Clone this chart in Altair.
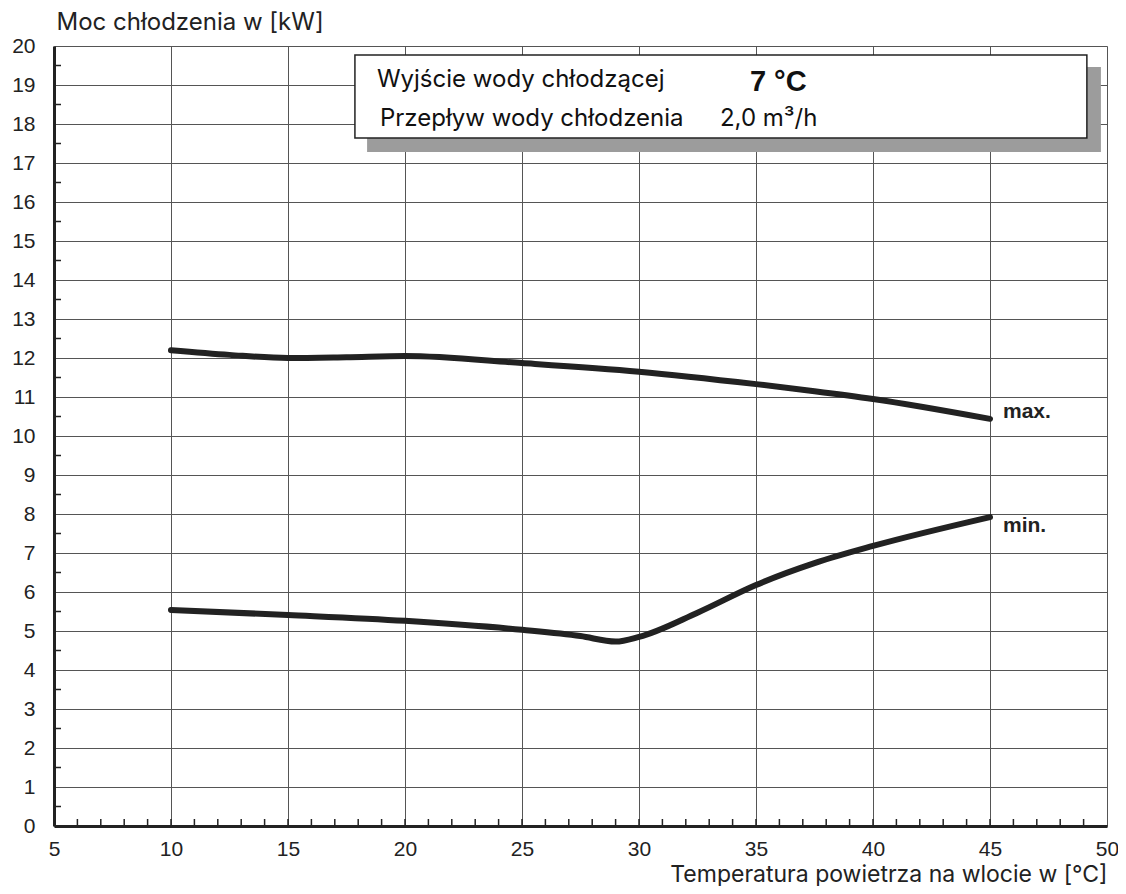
import altair as alt
import pandas as pd

# --- data ---
temp_max = [10, 12.5, 15, 17.5, 20, 25, 30, 35, 37.5, 40, 45]
cap_max = [12.2, 12.08, 12.0, 12.02, 12.05, 11.87, 11.65, 11.33, 11.15, 10.95, 10.44]
temp_min = [10, 15, 20, 25, 27.5, 29, 30, 32.5, 35, 37.5, 40, 45]
cap_min = [5.54, 5.41, 5.26, 5.03, 4.87, 4.73, 4.85, 5.47, 6.18, 6.74, 7.18, 7.92]

x_ticks = [5, 10, 15, 20, 25, 30, 35, 40, 45, 50]
y_ticks = list(range(0, 21))
x_minor = [v for v in range(6, 50)]
y_minor = [v + 0.5 for v in range(0, 20)]

series_labels = ["max.", "min."]

box_lines = ["Wyjście wody chłodzącej", "Przepływ wody chłodzenia"]
box_values = ["7 °C", "2,0 m³/h"]

W, H = 1053, 780

df_line = pd.DataFrame(
    [{"t": t, "p": p, "s": "max"} for t, p in zip(temp_max, cap_max)]
    + [{"t": t, "p": p, "s": "min"} for t, p in zip(temp_min, cap_min)]
)

xs = alt.Scale(domain=[5, 50], nice=False, zero=False)
ys = alt.Scale(domain=[0, 20], nice=False)

base_font = "Liberation Sans"
text_font = "Inter"

x_axis = alt.Axis(
    values=x_ticks, grid=True, gridColor="#555", gridWidth=1,
    ticks=False, domainColor="#222", domainWidth=3,
    labelFont=base_font, labelFontSize=21, labelPadding=12, labelFlush=False,
    labelOverlap=False, labelColor="#222",
    title="Temperatura powietrza na wlocie w [°C]", titleFont=text_font,
    titleFontSize=23, titleFontWeight="normal", titleColor="#222",
    titleAlign="right", titleAnchor="end", titleX=W, titleY=55,
    titleBaseline="alphabetic")
y_axis = alt.Axis(
    values=y_ticks, grid=True, gridColor="#555", gridWidth=1,
    ticks=False, domainColor="#222", domainWidth=3,
    labelFont=base_font, labelFontSize=21, labelPadding=19, labelColor="#222",
    labelOverlap=False,
    title="Moc chłodzenia w [kW]", titleFont=text_font, titleFontSize=24,
    titleFontWeight="normal", titleColor="#222", titleAngle=0,
    titleAlign="left", titleBaseline="alphabetic", titleX=2, titleY=-17)


def X(field):
    return alt.X(field, scale=xs, axis=x_axis)


def Y(field):
    return alt.Y(field, scale=ys, axis=y_axis)


xminor = alt.Chart(pd.DataFrame({"t": x_minor})).mark_rule(color="#222", strokeWidth=1.5).encode(
    x=X("t:Q"), y=alt.value(H), y2=alt.value(H - 7))
yminor = alt.Chart(pd.DataFrame({"p": y_minor})).mark_rule(color="#222", strokeWidth=1.5).encode(
    y=Y("p:Q"), x=alt.value(0), x2=alt.value(7))

lines = alt.Chart(df_line).mark_line(
    color="#222", strokeWidth=6, interpolate="monotone", strokeCap="round"
).encode(x=X("t:Q"), y=Y("p:Q"), detail="s:N")

df_end_max = pd.DataFrame({"t": [temp_max[-1]], "p": [cap_max[-1]], "lab": [series_labels[0]]})
df_end_min = pd.DataFrame({"t": [temp_min[-1]], "p": [cap_min[-1]], "lab": [series_labels[1]]})
end_max = alt.Chart(df_end_max).mark_text(
    align="left", baseline="alphabetic", dx=13, dy=-1, font=base_font, fontSize=21,
    fontWeight="bold", color="#222"
).encode(x=X("t:Q"), y=Y("p:Q"), text="lab:N")
end_min = alt.Chart(df_end_min).mark_text(
    align="left", baseline="alphabetic", dx=13, dy=15, font=base_font, fontSize=21,
    fontWeight="bold", color="#222"
).encode(x=X("t:Q"), y=Y("p:Q"), text="lab:N")

# legend box (annotation, in data space)
df_shadow = pd.DataFrame({"x1": [18.38], "x2": [49.74], "y1": [19.46], "y2": [17.28]})
df_box = pd.DataFrame({"x1": [17.86], "x2": [49.14], "y1": [19.77], "y2": [17.64]})
shadow = alt.Chart(df_shadow).mark_rect(fill="#9c9c9c").encode(
    x=X("x1:Q"), x2="x2", y=Y("y1:Q"), y2="y2")
box = alt.Chart(df_box).mark_rect(fill="white", stroke="#222", strokeWidth=1.5).encode(
    x=X("x1:Q"), x2="x2", y=Y("y1:Q"), y2="y2")

df_txt = pd.DataFrame({"t": [18.80, 18.93], "p": [18.95, 17.95], "txt": box_lines})
box_text = alt.Chart(df_txt).mark_text(
    align="left", baseline="alphabetic", font=text_font, fontSize=24, color="#111"
).encode(x=X("t:Q"), y=Y("p:Q"), text="txt:N")

df_val1 = pd.DataFrame({"t": [34.74], "p": [18.85], "txt": [box_values[0]]})
val1 = alt.Chart(df_val1).mark_text(
    align="left", baseline="alphabetic", font=base_font, fontSize=29,
    fontWeight="bold", color="#111"
).encode(x=X("t:Q"), y=Y("p:Q"), text="txt:N")
df_val2 = pd.DataFrame({"t": [33.46], "p": [17.95], "txt": [box_values[1]]})
val2 = alt.Chart(df_val2).mark_text(
    align="left", baseline="alphabetic", font=text_font, fontSize=24, color="#111"
).encode(x=X("t:Q"), y=Y("p:Q"), text="txt:N")

chart = alt.layer(xminor, yminor, lines, end_max, end_min, shadow, box,
                  box_text, val1, val2).properties(
    width=W, height=H,
    autosize=alt.AutoSizeParams(type="none"),
    padding={"left": 46, "top": 38, "right": 11, "bottom": 60},
).configure_view(stroke="#333", strokeWidth=1.5).configure(background="white")

chart.save("out.html", embed_options={"renderer": "svg", "actions": False})
